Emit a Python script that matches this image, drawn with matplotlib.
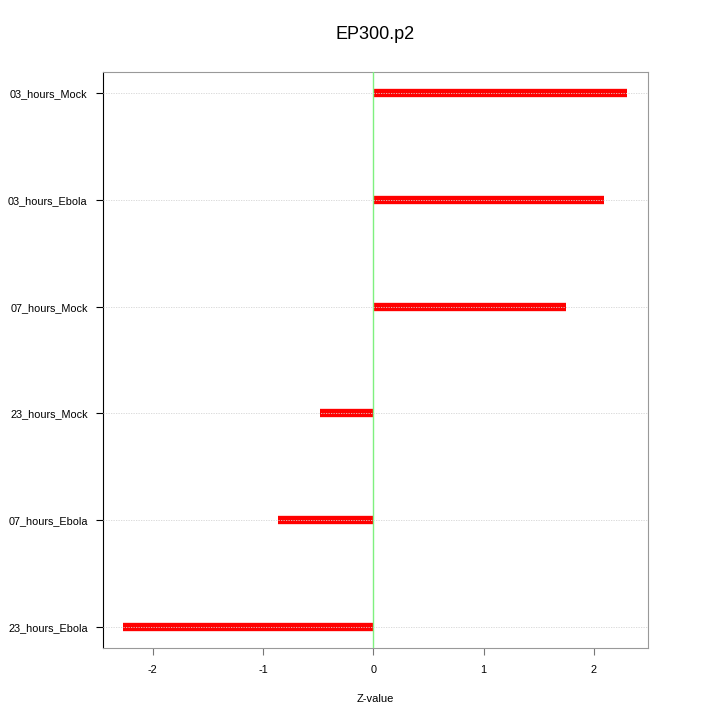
import matplotlib
matplotlib.use('Agg')
import matplotlib.pyplot as plt

plt.rcParams['font.family'] = ['Liberation Sans', 'DejaVu Sans']

etiquetas = ['23_hours_Ebola', '07_hours_Ebola', '23_hours_Mock',
             '07_hours_Mock', '03_hours_Ebola', '03_hours_Mock']
zvalores = [-2.27, -0.86, -0.48, 1.75, 2.09, 2.30]
posicoes = [1, 2, 3, 4, 5, 6]

fig = plt.figure(figsize=(7.2, 7.2), dpi=100)
ax = fig.add_axes([0.143, 0.1, 0.757, 0.8])

# barras como linhas grossas de 0 ate o valor
for y, z in zip(posicoes, zvalores):
    ax.plot([0, z], [y, y], color='red', linewidth=6, solid_capstyle='butt', zorder=2)

ax.axvline(0, color='#7ff07f', linewidth=1, zorder=3)
for y in posicoes:
    ax.axhline(y, color='#d4d4d4', linewidth=0.6, linestyle=(0, (1.5, 1.5)), zorder=4)

ax.set_xlim(-2.45, 2.49)
ax.set_ylim(0.8, 6.2)
ax.set_yticks(posicoes)
ax.set_yticklabels(etiquetas, fontsize=7.8)
ax.set_xticks([-2, -1, 0, 1, 2])
ax.set_xticklabels(['-2', '-1', '0', '1', '2'], fontsize=7.8)
ax.tick_params(axis='both', length=5, width=0.8, direction='out')
ax.tick_params(axis='y', pad=6)
ax.tick_params(axis='x', pad=7, colors='#777777', labelcolor='black')
ax.set_xlabel('Z-value', fontsize=8, labelpad=14)
ax.set_title('EP300.p2', fontsize=13, pad=24)

for lado in ['top', 'right']:
    ax.spines[lado].set_color('#999999')
ax.spines['bottom'].set_color('#999999')
ax.spines['left'].set_color('black')

fig.savefig('out.png', dpi=100)
